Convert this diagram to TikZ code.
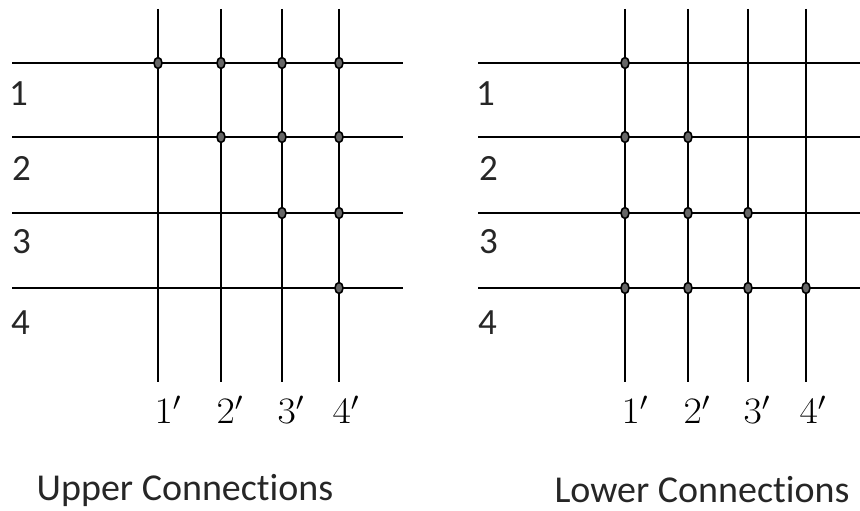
\documentclass[tikz,border=0pt]{standalone}
\usepackage{fontspec}
\setmainfont[Ligatures=NoCommon]{Carlito}
\usetikzlibrary{positioning, shapes.geometric}

\newcommand{\bigprime}[1]{\scalebox{1.6}[1.5]{$#1'$}}

\begin{document}
\begin{tikzpicture}[
    x = 1pt, y = -1pt,
    wire/.style     = {line width = 2.8pt, black},
    dot/.style      = {draw, ellipse, fill = black!60, line width = 1.6pt, inner sep = 0pt, minimum width = 8pt, minimum height = 11pt},
    rowlabel/.style = {anchor = west, inner sep = 0pt, font = \fontsize{37}{42}\selectfont, text = black!85},
    collabel/.style = {inner sep = 0pt, font = \fontsize{24}{28}\selectfont, text = black},
    caption/.style  = {inner sep = 0pt, font = \fontsize{38}{44}\selectfont, text = black!85},
]
\useasboundingbox (0,0) rectangle (860,511);

% ---------- upper connections: wires ----------
\draw[wire] (12,63) -- (403,63);
\draw[wire] (12,137) -- (403,137);
\draw[wire] (12,213) -- (403,213);
\draw[wire] (12,288) -- (403,288);
\draw[wire] (158,9) -- (158,382);
\draw[wire] (221,9) -- (221,382);
\draw[wire] (282,9) -- (282,382);
\draw[wire] (339,9) -- (339,382);

% ---------- upper connections: junctions ----------
\node[dot] (u11) at (158,63) {};
\node[dot] (u12) at (221,63) {};
\node[dot] (u13) at (282,63) {};
\node[dot] (u14) at (339,63) {};
\node[dot] (u22) at (221,137) {};
\node[dot] (u23) at (282,137) {};
\node[dot] (u24) at (339,137) {};
\node[dot] (u33) at (282,213) {};
\node[dot] (u34) at (339,213) {};
\node[dot] (u44) at (339,288) {};

% ---------- upper connections: labels ----------
\node[rowlabel] (ur1) at (9,94) {1};
\node[rowlabel] (ur2) at (12,168) {2};
\node[rowlabel] (ur3) at (12,242) {3};
\node[rowlabel] (ur4) at (11,323) {4};
\node[collabel] (uc1) at (168,410) {\bigprime{1}};
\node[collabel] (uc2) at (230,410) {\bigprime{2}};
\node[collabel] (uc3) at (291,410) {\bigprime{3}};
\node[collabel] (uc4) at (346,410) {\bigprime{4}};
\node[caption]  (utitle) at (185,490) {Upper Connections};

% ---------- lower connections: wires ----------
\draw[wire] (478,63) -- (860,63);
\draw[wire] (478,137) -- (860,137);
\draw[wire] (478,213) -- (860,213);
\draw[wire] (478,288) -- (860,288);
\draw[wire] (625,9) -- (625,382);
\draw[wire] (688,9) -- (688,382);
\draw[wire] (748,9) -- (748,382);
\draw[wire] (806,9) -- (806,382);

% ---------- lower connections: junctions ----------
\node[dot] (l11) at (625,63) {};
\node[dot] (l21) at (625,137) {};
\node[dot] (l22) at (688,137) {};
\node[dot] (l31) at (625,213) {};
\node[dot] (l32) at (688,213) {};
\node[dot] (l33) at (748,213) {};
\node[dot] (l41) at (625,288) {};
\node[dot] (l42) at (688,288) {};
\node[dot] (l43) at (748,288) {};
\node[dot] (l44) at (806,288) {};

% ---------- lower connections: labels ----------
\node[rowlabel] (lr1) at (476,94) {1};
\node[rowlabel] (lr2) at (479,168) {2};
\node[rowlabel] (lr3) at (479,242) {3};
\node[rowlabel] (lr4) at (478,323) {4};
\node[collabel] (lc1) at (635,410) {\bigprime{1}};
\node[collabel] (lc2) at (697,410) {\bigprime{2}};
\node[collabel] (lc3) at (757,410) {\bigprime{3}};
\node[collabel] (lc4) at (813,410) {\bigprime{4}};
\node[caption]  (ltitle) at (702,490) {Lower Connections};

\end{tikzpicture}
\end{document}
